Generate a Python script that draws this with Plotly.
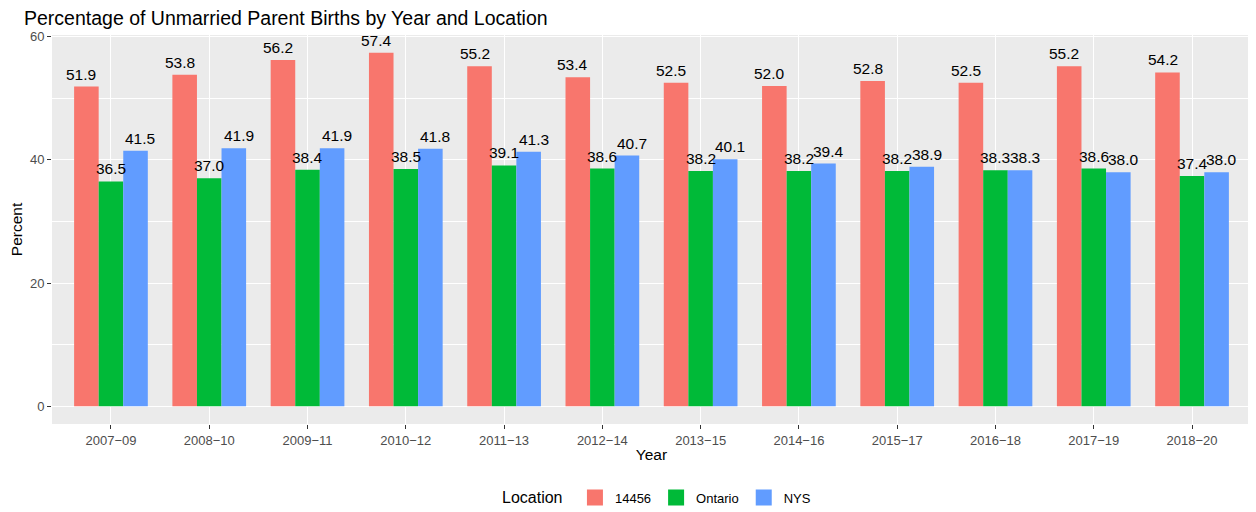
import plotly.graph_objects as go

years = ["2007\u221209", "2008\u221210", "2009\u221211", "2010\u221212", "2011\u221213", "2012\u221214",
         "2013\u221215", "2014\u221216", "2015\u221217", "2016\u221218", "2017\u221219", "2018\u221220"]
loc_14456 = [51.9, 53.8, 56.2, 57.4, 55.2, 53.4, 52.5, 52.0, 52.8, 52.5, 55.2, 54.2]
loc_ontario = [36.5, 37.0, 38.4, 38.5, 39.1, 38.6, 38.2, 38.2, 38.2, 38.3, 38.6, 37.4]
loc_nys = [41.5, 41.9, 41.9, 41.8, 41.3, 40.7, 40.1, 39.4, 38.9, 38.3, 38.0, 38.0]

series = [("14456", loc_14456, "#F8766D"), ("Ontario", loc_ontario, "#00BA38"), ("NYS", loc_nys, "#619CFF")]
FONT = "Liberation Sans, Arial, sans-serif"
W, H = 1256, 512

fig = go.Figure()
idx = list(range(len(years)))
bar_w = 0.25
label_off = [-0.3, 0.0, 0.3]
for k, (name, vals, col) in enumerate(series):
    fig.add_trace(go.Bar(x=[i + (k - 1) * bar_w for i in idx], y=vals, width=bar_w, name=name,
                         marker=dict(color=col, line=dict(width=0)), showlegend=False))
# legend keys (large squares like ggplot)
for name, vals, col in series:
    fig.add_trace(go.Scatter(x=[None], y=[None], mode="markers", name=name,
                             marker=dict(symbol="square", size=24, color=col, line=dict(width=0))))

annotations = []
for k, (name, vals, col) in enumerate(series):
    for i, v in zip(idx, vals):
        annotations.append(dict(x=i + label_off[k], y=v, xref="x", yref="y", text=f"{v:.1f}",
                                showarrow=False, xanchor="center", yanchor="bottom", yshift=2,
                                font=dict(family=FONT, size=15.5, color="black")))

fig.update_layout(
    width=W, height=H,
    margin=dict(l=44, r=13, t=27, b=96, autoexpand=False),
    paper_bgcolor="white", plot_bgcolor="#EBEBEB",
    font=dict(family=FONT, color="black"),
    barmode="overlay",
    annotations=annotations,
    title=dict(text="Percentage of Unmarried Parent Births by Year and Location",
               xref="container", x=16 / W, xanchor="left",
               yref="container", y=1 - 3 / H, yanchor="top",
               font=dict(family=FONT, size=19.5, color="black")),
    showlegend=True,
    legend=dict(orientation="h", x=650 / W, xanchor="center", xref="container",
                y=22 / H, yanchor="middle", yref="container",
                itemsizing="trace",
                title=dict(text="Location ", font=dict(family=FONT, size=16, color="black"), side="left"),
                font=dict(family=FONT, size=13, color="black"), itemwidth=30,
                traceorder="normal"),
    xaxis=dict(range=[-0.6, 11.6], tickmode="array", tickvals=idx, ticktext=years,
               showgrid=True, gridcolor="white", gridwidth=1.1, zeroline=False, automargin=False,
               ticks="outside", ticklen=4, tickcolor="#333333", tickwidth=1.1,
               tickfont=dict(family=FONT, size=13, color="#4D4D4D"),
               title=dict(text="Year", font=dict(family=FONT, size=15.5, color="black"), standoff=2)),
    yaxis=dict(range=[-2.87, 60.27], tickmode="array", tickvals=[0, 20, 40, 60],
               showgrid=True, gridcolor="white", gridwidth=1.1, zeroline=False, automargin=False,
               minor=dict(tickmode="array", tickvals=[10, 30, 50], showgrid=True, gridcolor="white", gridwidth=0.5),
               ticks="outside", ticklen=4, tickcolor="#333333", tickwidth=1.1,
               tickfont=dict(family=FONT, size=13, color="#4D4D4D"),
               title=dict(text="Percent", font=dict(family=FONT, size=15.5, color="black"), standoff=6)),
)

fig.write_html("out.html")
